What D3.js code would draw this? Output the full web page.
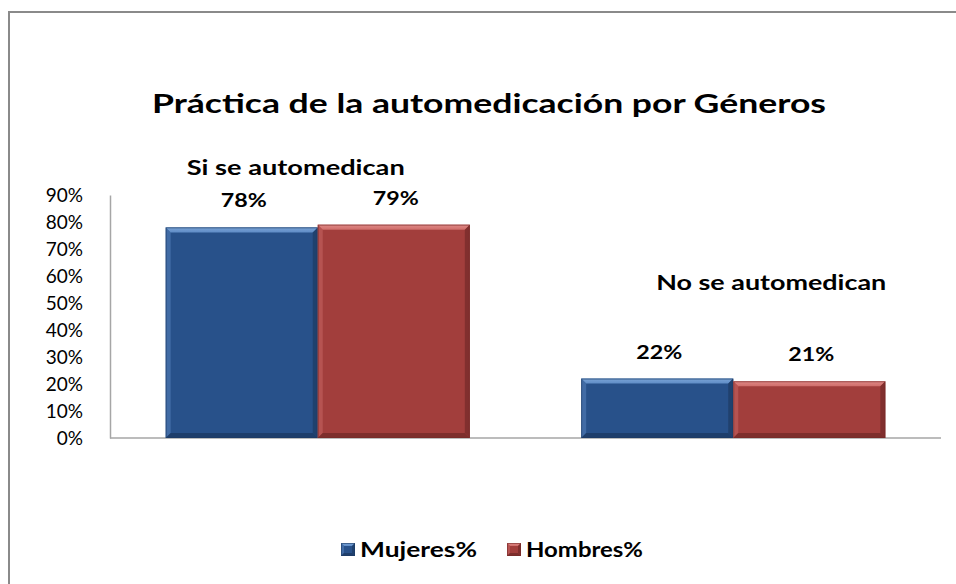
<!DOCTYPE html>
<html><head><meta charset="utf-8">
<script src="https://cdn.jsdelivr.net/npm/d3@7"></script>
<style>body{margin:0;background:#fff}svg{display:block}text{font-family:Lato,"Open Sans",sans-serif}</style>
</head><body>
<svg id="c" width="956" height="584"></svg>
<script>
const categories = ["Si se automedican", "No se automedican"];
const seriesNames = ["Mujeres%", "Hombres%"];
const mujeres = [0.78, 0.22];
const hombres = [0.79, 0.21];
const tickValues = [0, 0.1, 0.2, 0.3, 0.4, 0.5, 0.6, 0.7, 0.8, 0.9];
const title = "Práctica de la automedicación por Géneros";

const svg = d3.select("#c");
const plot = {left: 110, right: 941, top: 195, bottom: 438};
const colors = [
  {base: "#28518a", light: "#5f8cc6", lighter: "#7aa3d6", dark: "#1c3a63"},
  {base: "#a23e3c", light: "#cf6d6a", lighter: "#e08a87", dark: "#742a28"}
];

// frame
svg.append("rect").attr("x", 9).attr("y", 12).attr("width", 1000).attr("height", 1000)
  .attr("fill", "#fff").attr("stroke", "#8a8a8a").attr("stroke-width", 2);

// title
svg.append("text").attr("x", 489).attr("y", 113).attr("text-anchor", "middle")
  .attr("font-size", 27).attr("font-weight", "bold").attr("fill", "#000")
  .attr("textLength", 674).attr("lengthAdjust", "spacingAndGlyphs").text(title);

const x0 = d3.scaleBand().domain(categories).range([plot.left, plot.right]).paddingInner(0.268).paddingOuter(0.134);
const x1 = d3.scaleBand().domain(seriesNames).range([0, x0.bandwidth()]);
const y = d3.scaleLinear().domain([0, 0.9]).range([plot.bottom, plot.top]);

// y axis
const yAxis = d3.axisLeft(y).tickValues(tickValues).tickFormat(d3.format(".0%")).tickSize(0).tickPadding(27);
const ga = svg.append("g").attr("transform", `translate(${plot.left},0)`).call(yAxis);
ga.select(".domain").attr("stroke", "#a6a6a6").attr("stroke-width", 1.5);
ga.selectAll("text").attr("font-size", 19).attr("fill", "#000").attr("font-family", "Lato, sans-serif")
  .attr("dy", "0.36em");

// x axis line
svg.append("line").attr("x1", plot.left).attr("x2", plot.right).attr("y1", plot.bottom).attr("y2", plot.bottom)
  .attr("stroke", "#a6a6a6").attr("stroke-width", 1.5);

// gradients
const defs = svg.append("defs");
colors.forEach((c, i) => {
  const g = defs.append("linearGradient").attr("id", "top" + i).attr("x1", 0).attr("x2", 0).attr("y1", 0).attr("y2", 1);
  g.append("stop").attr("offset", 0).attr("stop-color", c.lighter);
  g.append("stop").attr("offset", 1).attr("stop-color", c.light);
});

function bevelBar(g, x, yTop, w, h, ci, b) {
  const c = colors[ci];
  const yB = yTop + h;
  g.append("rect").attr("x", x).attr("y", yTop).attr("width", w).attr("height", h).attr("fill", c.base);
  g.append("polygon").attr("points", [[x, yTop], [x + w, yTop], [x + w - b, yTop + b], [x + b, yTop + b]].join(" "))
    .attr("fill", `url(#top${ci})`);
  g.append("polygon").attr("points", [[x, yTop], [x + b, yTop + b], [x + b, yB - b], [x, yB]].join(" "))
    .attr("fill", c.light).attr("opacity", 0.45);
  g.append("polygon").attr("points", [[x + w, yTop], [x + w, yB], [x + w - b, yB - b], [x + w - b, yTop + b]].join(" "))
    .attr("fill", c.dark).attr("opacity", 0.7);
  g.append("polygon").attr("points", [[x, yB], [x + w, yB], [x + w - b, yB - b], [x + b, yB - b]].join(" "))
    .attr("fill", c.dark).attr("opacity", 0.8);
  g.append("rect").attr("x", x + 0.5).attr("y", yTop + 0.5).attr("width", w - 1).attr("height", h - 1)
    .attr("fill", "none").attr("stroke", c.dark).attr("stroke-opacity", 0.6);
}

const rows = categories.map((c, i) => ({cat: c, vals: [mujeres[i], hombres[i]]}));
const bars = svg.append("g");
rows.forEach(r => {
  r.vals.forEach((v, si) => {
    const bx = x0(r.cat) + x1(seriesNames[si]);
    bevelBar(bars, bx, y(v), x1.bandwidth(), plot.bottom - y(v), si, 5);
    svg.append("text").attr("x", bx + x1.bandwidth() / 2 + 2).attr("y", y(v) - 20)
      .attr("text-anchor", "middle").attr("font-size", 18).attr("font-weight", "bold").attr("fill", "#000")
      .attr("textLength", 46).attr("lengthAdjust", "spacingAndGlyphs")
      .text(d3.format(".0%")(v));
  });
});

// category annotations
const catPos = [{dx: -22, y: 175, w: 218}, {dx: 38, y: 290, w: 230}];
categories.forEach((c, i) => {
  svg.append("text").attr("x", x0(c) + x0.bandwidth() / 2 + catPos[i].dx).attr("y", catPos[i].y)
    .attr("text-anchor", "middle").attr("font-size", 21).attr("font-weight", "bold").attr("fill", "#000")
    .attr("textLength", catPos[i].w).attr("lengthAdjust", "spacingAndGlyphs").text(c);
});

// legend
const legX = [341, 507];
const legW = [117, 117];
seriesNames.forEach((s, i) => {
  const lg = svg.append("g");
  bevelBar(lg, legX[i], 543, 14, 13, i, 3);
  lg.append("text").attr("x", legX[i] + 19).attr("y", 557).attr("font-size", 20).attr("font-weight", "bold")
    .attr("fill", "#000").attr("textLength", legW[i]).attr("lengthAdjust", "spacingAndGlyphs").text(s);
});
</script>
</body></html>
